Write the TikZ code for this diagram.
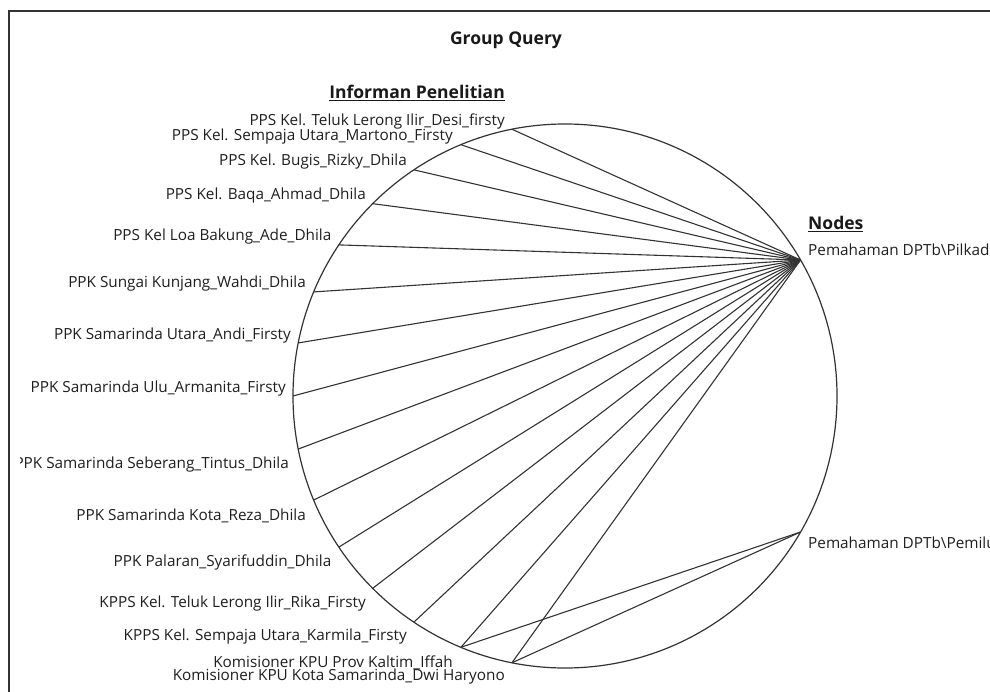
\documentclass[tikz,border=0pt]{standalone}
\usepackage{fontspec}
\setmainfont{Open Sans}
\begin{document}
\begin{tikzpicture}[x=1pt,y=-1pt,
  frameline/.style={draw=black!80, line width=1.3pt},
  ring/.style={draw=black!80, line width=1.2pt},
  link/.style={draw=black!80, line width=1.1pt},
  lbl/.style={font=\fontsize{15.3}{18}\selectfont, text=black!88, inner sep=0pt, anchor=base east},
  rlbl/.style={font=\fontsize{15.3}{18}\selectfont, text=black!88, inner sep=0pt, anchor=base west},
  heading/.style={font=\fontsize{17.5}{20}\selectfont\bfseries, text=black!90, inner sep=0pt}
]
\useasboundingbox (0,0) rectangle (990,692);
\fill[white] (0,0) rectangle (990,692);
\draw[frameline] (9,692) -- (9,11) -- (990,11);

% the circle on which all nodes sit
\coordinate (c) at (565,396);
\draw[ring] (c) circle[radius=272pt];

% code nodes on the right of the circle
\coordinate (pilkada) at ([shift={(30:272pt)}]c);
\coordinate (pemilu) at ([shift={(-30:272pt)}]c);

% informants on the left of the circle, one every 11.25 degrees
\foreach \i in {1,...,15}{
  \pgfmathsetmacro{\ang}{90+11.25*\i}
  \coordinate (inf\i) at ([shift={(\ang:272pt)}]c);
}

% links: every informant is coded at Pilkada, two also at Pemilu
\foreach \i in {1,...,15}{
  \draw[link] (inf\i) -- (pilkada);
}
\draw[link] (inf14) -- (pemilu);
\draw[link] (inf15) -- (pemilu);

% titles
\node[heading] (title) at (506,40) {Group Query};
\node[heading, anchor=base east] (infhead) at (505,98.5) {\underline{Informan Penelitian}};
\node[heading, anchor=base west] (nodehead) at (808,230) {\underline{Nodes}};

\begin{scope}
  \clip (20,0) rectangle (990,692);
  \node[lbl] (lab1)  at (505,125.5) {PPS Kel. Teluk Lerong Ilir\_Desi\_firsty};
  \node[lbl] (lab2)  at (453,140.5) {PPS Kel. Sempaja Utara\_Martono\_Firsty};
  \node[lbl] (lab3)  at (407,165.5) {PPS Kel. Bugis\_Rizky\_Dhila};
  \node[lbl] (lab4)  at (366,200)   {PPS Kel. Baqa\_Ahmad\_Dhila};
  \node[lbl] (lab5)  at (331.5,240.5) {PPS Kel Loa Bakung\_Ade\_Dhila};
  \node[lbl] (lab6)  at (306,288)   {PPK Sungai Kunjang\_Wahdi\_Dhila};
  \node[lbl] (lab7)  at (291,340)   {PPK Samarinda Utara\_Andi\_Firsty};
  \node[lbl] (lab8)  at (286,392.5) {PPK Samarinda Ulu\_Armanita\_Firsty};
  \node[lbl] (lab9)  at (289,468)   {PPK Samarinda Seberang\_Tintus\_Dhila};
  \node[lbl] (lab10) at (306,520)   {PPK Samarinda Kota\_Reza\_Dhila};
  \node[lbl] (lab11) at (331.5,566) {PPK Palaran\_Syarifuddin\_Dhila};
  \node[lbl] (lab12) at (366,607)   {KPPS Kel. Teluk Lerong Ilir\_Rika\_Firsty};
  \node[lbl] (lab13) at (407,640)   {KPPS Kel. Sempaja Utara\_Karmila\_Firsty};
  \node[lbl] (lab14) at (453,667)   {Komisioner KPU Prov Kaltim\_Iffah};
  \node[lbl] (lab15) at (505,680.5) {Komisioner KPU Kota Samarinda\_Dwi Haryono};
  \node[rlbl] (labpilkada) at (808,255.5) {Pemahaman DPTb\textbackslash Pilkada};
  \node[rlbl] (labpemilu)  at (808,548.5) {Pemahaman DPTb\textbackslash Pemilu};
\end{scope}
\end{tikzpicture}
\end{document}
